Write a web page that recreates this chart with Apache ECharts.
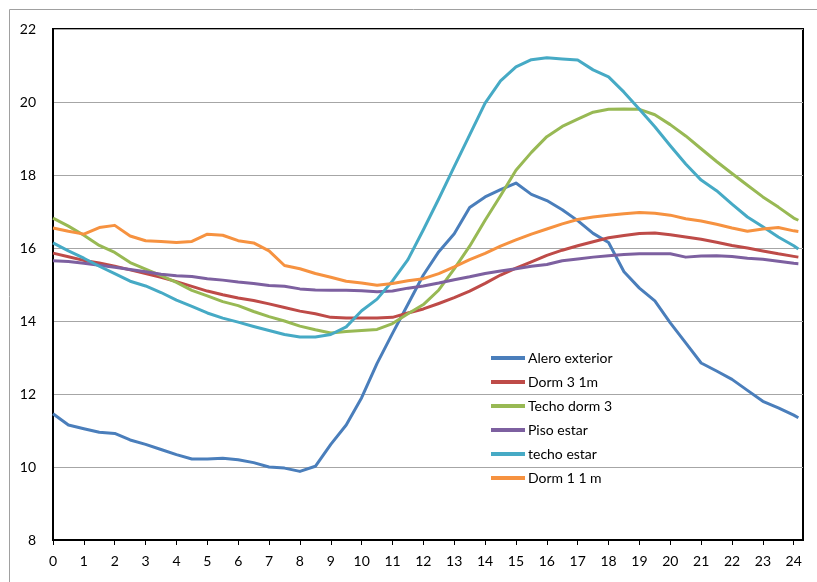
<!DOCTYPE html>
<html>
<head>
<meta charset="utf-8">
<script src="https://cdn.jsdelivr.net/npm/echarts@6/dist/echarts.min.js"></script>
<style>
  html, body { margin: 0; padding: 0; background: #fff; }
  #chart { width: 817px; height: 582px; }
</style>
</head>
<body>
<div id="chart"></div>
<script>
// hours of the day (readings every half hour)
const hours = [0, 0.5, 1, 1.5, 2, 2.5, 3, 3.5, 4, 4.5, 5, 5.5, 6, 6.5, 7, 7.5, 8, 8.5, 9, 9.5,
  10, 10.5, 11, 11.5, 12, 12.5, 13, 13.5, 14, 14.5, 15, 15.5, 16, 16.5, 17, 17.5, 18, 18.5, 19, 19.5,
  20, 20.5, 21, 21.5, 22, 22.5, 23, 23.5, 24, 24.15]
const xTicks = [0, 1, 2, 3, 4, 5, 6, 7, 8, 9, 10, 11, 12, 13, 14, 15, 16, 17, 18, 19, 20, 21, 22, 23, 24]

const aleroExterior = [11.46, 11.15, 11.05, 10.95, 10.92, 10.74, 10.62, 10.48, 10.34, 10.22, 10.22, 10.24, 10.2, 10.12, 10.0, 9.97, 9.88, 10.02, 10.62, 11.15,
  11.9, 12.84, 13.66, 14.46, 15.26, 15.9, 16.39, 17.11, 17.4, 17.6, 17.78, 17.47, 17.3, 17.05, 16.75, 16.4, 16.15, 15.35, 14.9, 14.55,
  13.95, 13.4, 12.85, 12.63, 12.4, 12.1, 11.8, 11.62, 11.42, 11.35]
const dorm31m = [15.86, 15.76, 15.66, 15.59, 15.5, 15.4, 15.3, 15.2, 15.08, 14.95, 14.82, 14.72, 14.63, 14.56, 14.47, 14.37, 14.27, 14.2, 14.1, 14.08,
  14.08, 14.08, 14.1, 14.22, 14.33, 14.48, 14.64, 14.82, 15.03, 15.26, 15.45, 15.62, 15.8, 15.94, 16.06, 16.17, 16.28, 16.34, 16.4, 16.41,
  16.36, 16.3, 16.24, 16.16, 16.07, 16.0, 15.92, 15.84, 15.77, 15.75]
const techoDorm3 = [16.82, 16.6, 16.35, 16.07, 15.88, 15.6, 15.42, 15.24, 15.06, 14.84, 14.69, 14.53, 14.42, 14.26, 14.12, 14.0, 13.86, 13.76, 13.67, 13.71,
  13.74, 13.77, 13.93, 14.2, 14.45, 14.85, 15.43, 16.05, 16.76, 17.43, 18.13, 18.62, 19.05, 19.33, 19.53, 19.72, 19.8, 19.81, 19.8, 19.65,
  19.38, 19.07, 18.72, 18.37, 18.04, 17.72, 17.4, 17.12, 16.82, 16.76]
const pisoEstar = [15.65, 15.63, 15.58, 15.53, 15.47, 15.41, 15.35, 15.28, 15.24, 15.22, 15.16, 15.12, 15.07, 15.03, 14.97, 14.95, 14.88, 14.85, 14.84, 14.84,
  14.83, 14.8, 14.82, 14.9, 14.96, 15.04, 15.13, 15.21, 15.3, 15.37, 15.43, 15.5, 15.55, 15.65, 15.7, 15.75, 15.79, 15.82, 15.84, 15.84,
  15.84, 15.75, 15.78, 15.79, 15.77, 15.72, 15.69, 15.64, 15.58, 15.57]
const techoEstar = [16.14, 15.92, 15.72, 15.5, 15.3, 15.09, 14.96, 14.78, 14.57, 14.4, 14.22, 14.08, 13.97, 13.85, 13.74, 13.63, 13.56, 13.56, 13.63, 13.84,
  14.28, 14.6, 15.1, 15.68, 16.5, 17.35, 18.23, 19.1, 19.97, 20.58, 20.96, 21.16, 21.21, 21.18, 21.15, 20.88, 20.69, 20.27, 19.8, 19.32,
  18.8, 18.3, 17.86, 17.57, 17.2, 16.85, 16.58, 16.3, 16.06, 15.97]
const dorm11m = [16.55, 16.46, 16.38, 16.56, 16.62, 16.33, 16.2, 16.18, 16.15, 16.18, 16.38, 16.35, 16.2, 16.14, 15.92, 15.52, 15.43, 15.3, 15.2, 15.09,
  15.04, 14.98, 15.03, 15.1, 15.16, 15.3, 15.48, 15.68, 15.85, 16.05, 16.22, 16.38, 16.52, 16.66, 16.78, 16.85, 16.9, 16.94, 16.97, 16.95,
  16.9, 16.8, 16.74, 16.65, 16.55, 16.46, 16.52, 16.56, 16.47, 16.45]

const seriesNames = ['Alero exterior', 'Dorm 3 1m', 'Techo dorm 3', 'Piso estar', 'techo estar', 'Dorm 1 1 m']
const seriesValues = [aleroExterior, dorm31m, techoDorm3, pisoEstar, techoEstar, dorm11m]
const colors = ['#4a7ebb', '#be4b48', '#98b954', '#7d60a0', '#46aac5', '#f69240']

const font = 'Lato, "Open Sans", sans-serif'

const chart = echarts.init(document.getElementById('chart'), null, { renderer: 'canvas' })
chart.setOption({
  animation: false,
  color: colors,
  graphic: [{
    type: 'rect',
    shape: { x: 9.5, y: 9.5, width: 830, height: 600 },
    style: { fill: 'none', stroke: '#a0a0a0', lineWidth: 1 },
    silent: true
  }],
  grid: {
    left: 53, right: 14, top: 29, bottom: 42,
    show: true, borderColor: '#000', borderWidth: 2
  },
  legend: {
    orient: 'vertical',
    left: 491, top: 351,
    padding: 0,
    icon: 'rect',
    itemWidth: 34, itemHeight: 4, itemGap: 10,
    textStyle: { fontFamily: font, fontSize: 14, lineHeight: 14, color: '#000', padding: [0, 0, 0, -2] },
    data: seriesNames
  },
  xAxis: {
    type: 'value',
    min: 0, max: 24.3,
    axisLine: { lineStyle: { color: '#000', width: 2 } },
    axisTick: { show: true, length: 5, customValues: xTicks, lineStyle: { color: '#000' } },
    axisLabel: {
      customValues: xTicks,
      margin: 14,
      fontFamily: font, fontSize: 14, color: '#000'
    },
    splitLine: { show: false }
  },
  yAxis: {
    type: 'value',
    min: 8, max: 22, interval: 2,
    axisLine: { show: true, lineStyle: { color: '#000', width: 2 } },
    axisTick: { show: false },
    axisLabel: { margin: 17, fontFamily: font, fontSize: 14, color: '#000' },
    splitLine: { lineStyle: { color: '#a6a6a6', width: 1 } }
  },
  series: seriesNames.map((name, i) => ({
    name,
    type: 'line',
    symbol: 'none',
    data: hours.map((h, j) => [h, seriesValues[i][j]]),
    lineStyle: { width: 3, color: colors[i], join: 'round' }
  }))
})
</script>
</body>
</html>
